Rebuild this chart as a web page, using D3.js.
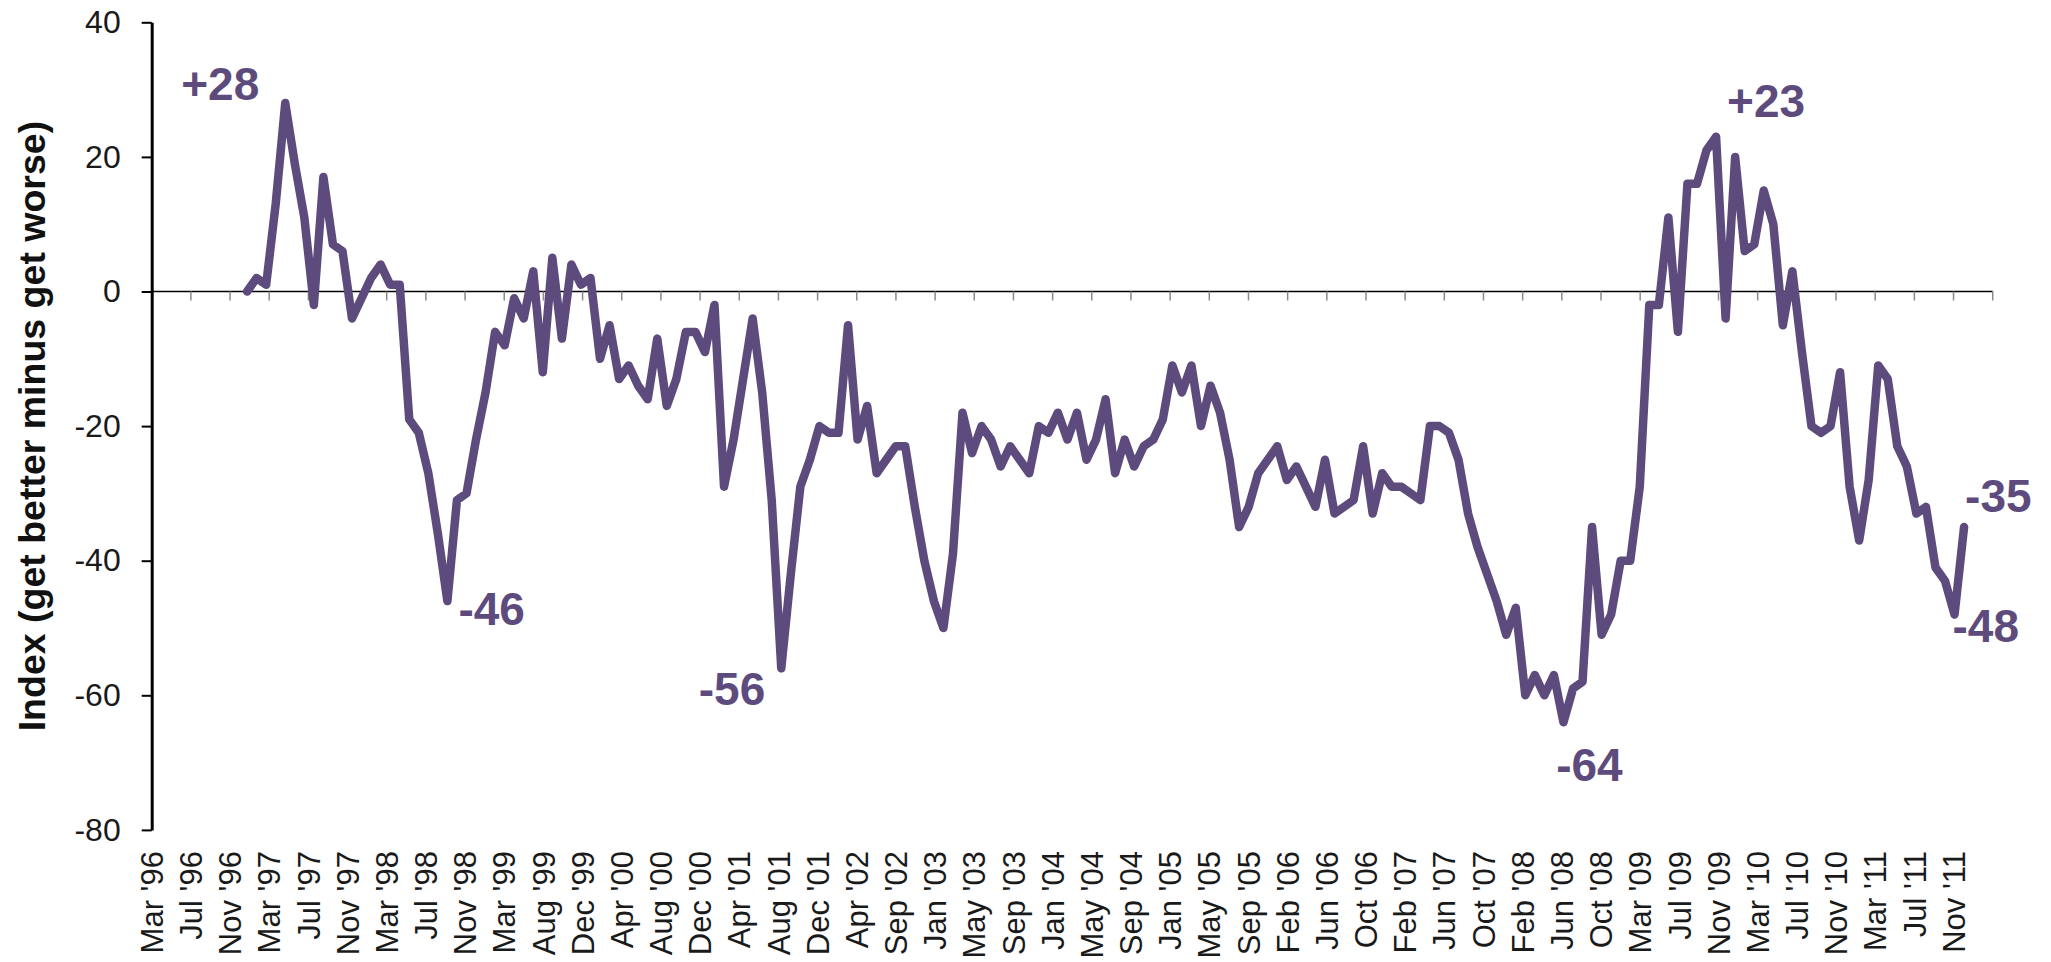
<!DOCTYPE html>
<html>
<head>
<meta charset="utf-8">
<script src="https://cdn.jsdelivr.net/npm/d3@7"></script>
<style>
  body { margin: 0; background: #ffffff; }
  svg { display: block; }
</style>
</head>
<body>
<script>
const width = 2051, height = 962;

// category labels, one per 4-month group
const monthLabels = ["Mar '96", "Jul '96", "Nov '96", "Mar '97", "Jul '97", "Nov '97", "Mar '98", "Jul '98",
  "Nov '98", "Mar '99", "Aug '99", "Dec '99", "Apr '00", "Aug '00", "Dec '00", "Apr '01", "Aug '01",
  "Dec '01", "Apr '02", "Sep '02", "Jan '03", "May '03", "Sep '03", "Jan '04", "May '04", "Sep '04",
  "Jan '05", "May '05", "Sep '05", "Feb '06", "Jun '06", "Oct '06", "Feb '07", "Jun '07", "Oct '07",
  "Feb '08", "Jun '08", "Oct '08", "Mar '09", "Jul '09", "Nov '09", "Mar '10", "Jul '10", "Nov '10",
  "Mar '11", "Jul '11", "Nov '11"];

const yTicks = [-80, -60, -40, -20, 0, 20, 40];

// survey periods on the line axis, and the index values
const periodCount = 194;
const firstPeriod = 10;
const indexValues = [
  0, 2, 1, 13, 28, 19, 11, -2, 17, 7, 6, -4, -1, 2, 4, 1, 1, -19, -21, -27,
  -36, -46, -31, -30, -22, -15, -6, -8, -1, -4, 3, -12, 5, -7, 4, 1, 2, -10, -5, -13,
  -11, -14, -16, -7, -17, -13, -6, -6, -9, -2, -29, -22, -13, -4, -15, -31, -56, -42, -29, -25,
  -20, -21, -21, -5, -22, -17, -27, -25, -23, -23, -32, -40, -46, -50, -39, -18, -24, -20, -22, -26,
  -23, -25, -27, -20, -21, -18, -22, -18, -25, -22, -16, -27, -22, -26, -23, -22, -19, -11, -15, -11,
  -20, -14, -18, -25, -35, -32, -27, -25, -23, -28, -26, -29, -32, -25, -33, -32, -31, -23, -33, -27,
  -29, -29, -30, -31, -20, -20, -21, -25, -33, -38, -42, -46, -51, -47, -60, -57, -60, -57, -64, -59,
  -58, -35, -51, -48, -40, -40, -29, -2, -2, 11, -6, 16, 16, 21, 23, -4, 20, 6, 7, 15,
  10, -5, 3, -9, -20, -21, -20, -12, -29, -37, -28, -11, -13, -23, -26, -33, -32, -41, -43, -48,
  -35
];

// highlighted points (positions in indexValues)
const calloutIndex = [4, 21, 56, 138, 154, 179, 180];
// label offsets from the point: dx, dy, anchor
const calloutLayout = [[-26, -3, "end"], [11, 24, "start"], [-16, 37, "end"], [26, 59, "middle"],
  [11, -20, "start"], [-2, 27, "start"], [1, -15, "start"]];

const lineColor = "#5e4b7e";
const x0 = 151.7, x1 = 1992.7;

const svg = d3.select("body").append("svg").attr("width", width).attr("height", height);

const y = d3.scaleLinear().domain([-80, 40]).range([829.9, 22.3]);
const xBand = d3.scaleBand().domain(monthLabels).range([x0, x1]);
const xLine = d3.scalePoint().domain(d3.range(periodCount)).range([x0, x1]);

// zero line with category ticks
svg.append("line")
  .attr("x1", x0).attr("x2", x1)
  .attr("y1", y(0)).attr("y2", y(0))
  .attr("stroke", "#000").attr("stroke-width", 1.5);

const tickXs = monthLabels.map(d => xBand(d)).concat([x1]);
svg.selectAll("line.cat-tick")
  .data(tickXs.slice(1))
  .enter().append("line")
  .attr("class", "cat-tick")
  .attr("x1", d => d).attr("x2", d => d)
  .attr("y1", y(0)).attr("y2", y(0) + 9)
  .attr("stroke", "#8a8a8a").attr("stroke-width", 1.5);

// category labels at the bottom
svg.selectAll("text.cat-label")
  .data(monthLabels)
  .enter().append("text")
  .attr("class", "cat-label")
  .attr("transform", d => `translate(${xBand(d)}, 851) rotate(-90)`)
  .attr("dy", "0.36em")
  .attr("text-anchor", "end")
  .attr("font-family", "'Liberation Sans', Arial, sans-serif")
  .attr("font-size", 31)
  .attr("fill", "#1a1a1a")
  .text(d => d);

// y axis
const yAxis = svg.append("g")
  .attr("transform", `translate(${x0},0)`)
  .call(d3.axisLeft(y).tickValues(yTicks).tickSize(10).tickSizeOuter(0).tickPadding(21).tickFormat(d => String(d)));
yAxis.select(".domain").attr("stroke", "#000").attr("stroke-width", 3);
yAxis.selectAll(".tick line").attr("stroke", "#000").attr("stroke-width", 2);
yAxis.selectAll(".tick text")
  .attr("font-family", "'Liberation Sans', Arial, sans-serif")
  .attr("font-size", 32)
  .attr("fill", "#1a1a1a");

svg.append("text")
  .attr("transform", `translate(31, ${(y(40) + y(-80)) / 2}) rotate(-90)`)
  .attr("dy", "0.36em")
  .attr("text-anchor", "middle")
  .attr("font-family", "'Liberation Sans', Arial, sans-serif")
  .attr("font-weight", "bold")
  .attr("font-size", 37.5)
  .attr("fill", "#111")
  .text("Index (get better minus get worse)");

// the index line
const line = d3.line()
  .x((d, i) => xLine(firstPeriod + i))
  .y(d => y(d));

svg.append("path")
  .datum(indexValues)
  .attr("d", line)
  .attr("fill", "none")
  .attr("stroke", lineColor)
  .attr("stroke-width", 8.5)
  .attr("stroke-linejoin", "round")
  .attr("stroke-linecap", "round");

// callout labels
svg.selectAll("text.callout")
  .data(calloutIndex)
  .enter().append("text")
  .attr("class", "callout")
  .attr("x", (d, i) => xLine(firstPeriod + d) + calloutLayout[i][0])
  .attr("y", (d, i) => y(indexValues[d]) + calloutLayout[i][1])
  .attr("text-anchor", (d, i) => calloutLayout[i][2])
  .attr("font-family", "'Liberation Sans', Arial, sans-serif")
  .attr("font-weight", "bold")
  .attr("font-size", 46)
  .attr("fill", lineColor)
  .text(d => indexValues[d] > 0 ? "+" + indexValues[d] : String(indexValues[d]));
</script>
</body>
</html>
